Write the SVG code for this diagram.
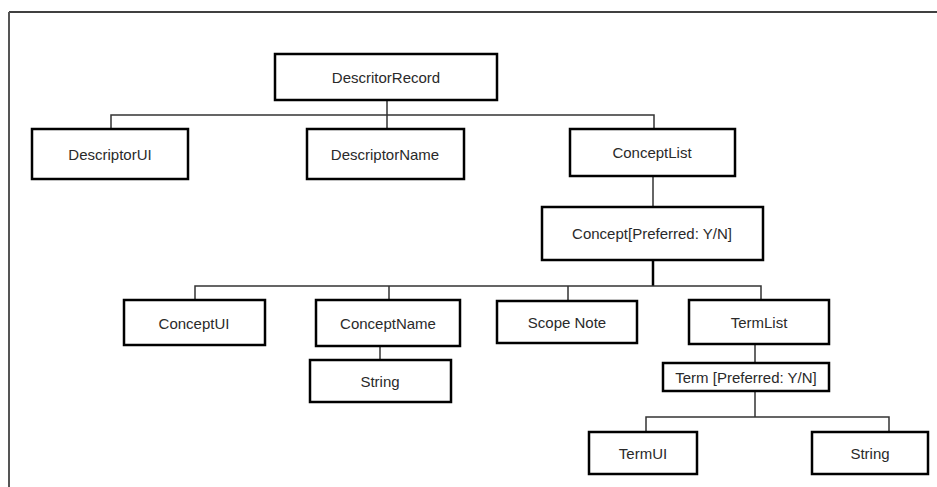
<svg xmlns="http://www.w3.org/2000/svg" width="937" height="487" viewBox="0 0 937 487">
<style>
.box{fill:#fff;stroke:#000;stroke-width:2.5}
.lbl{font-family:"Liberation Sans",Arial,sans-serif;font-size:15px;fill:#2a2a2a;text-anchor:middle;dominant-baseline:central}
.c{fill:none;stroke:#333;stroke-width:1.5}
</style>
<rect width="937" height="487" fill="#fff"/>
<g id="frame">
<line x1="9" y1="12" x2="937" y2="12" stroke="#000" stroke-width="1.5"/>
<line x1="9" y1="12" x2="9" y2="487" stroke="#555" stroke-width="2"/>
</g>
<g id="connectors">
<path class="c" d="M387 100V130M111 130V115H654V130"/>
<path class="c" d="M653 176V207"/>
<path class="c" d="M653 260V286" style="stroke:#000;stroke-width:2.5"/>
<path class="c" d="M195 300V286H761V300M389 286V300M568 286V301"/>
<path class="c" d="M380 346V360"/>
<path class="c" d="M755 344V363M755 391V417M646 432V417H889V432"/>
</g>
<g id="n-root"><rect class="box" x="275" y="54" width="222" height="46"/><text class="lbl" x="386" y="77">DescritorRecord</text></g>
<g id="n-dui"><rect class="box" x="32" y="129" width="156" height="50"/><text class="lbl" x="110" y="154">DescriptorUI</text></g>
<g id="n-dname"><rect class="box" x="307" y="129" width="157" height="50"/><text class="lbl" x="385" y="154">DescriptorName</text></g>
<g id="n-clist"><rect class="box" x="570" y="129" width="165" height="47"/><text class="lbl" x="652" y="152">ConceptList</text></g>
<g id="n-concept"><rect class="box" x="542" y="207" width="221" height="53"/><text class="lbl" x="652" y="233">Concept[Preferred: Y/N]</text></g>
<g id="n-cui"><rect class="box" x="124" y="300" width="141" height="45"/><text class="lbl" x="194" y="323">ConceptUI</text></g>
<g id="n-cname"><rect class="box" x="316" y="300" width="144" height="46"/><text class="lbl" x="388" y="323">ConceptName</text></g>
<g id="n-scope"><rect class="box" x="497" y="301" width="140" height="42"/><text class="lbl" x="567" y="322">Scope Note</text></g>
<g id="n-tlist"><rect class="box" x="689" y="300" width="140" height="44"/><text class="lbl" x="759" y="322">TermList</text></g>
<g id="n-cstring"><rect class="box" x="310" y="360" width="141" height="42"/><text class="lbl" x="380" y="381">String</text></g>
<g id="n-term"><rect class="box" x="663" y="363" width="166" height="28"/><text class="lbl" x="746" y="377">Term [Preferred: Y/N]</text></g>
<g id="n-tui"><rect class="box" x="589" y="432" width="108" height="42"/><text class="lbl" x="643" y="453">TermUI</text></g>
<g id="n-tstring"><rect class="box" x="812" y="432" width="116" height="42"/><text class="lbl" x="870" y="453">String</text></g>
</svg>
